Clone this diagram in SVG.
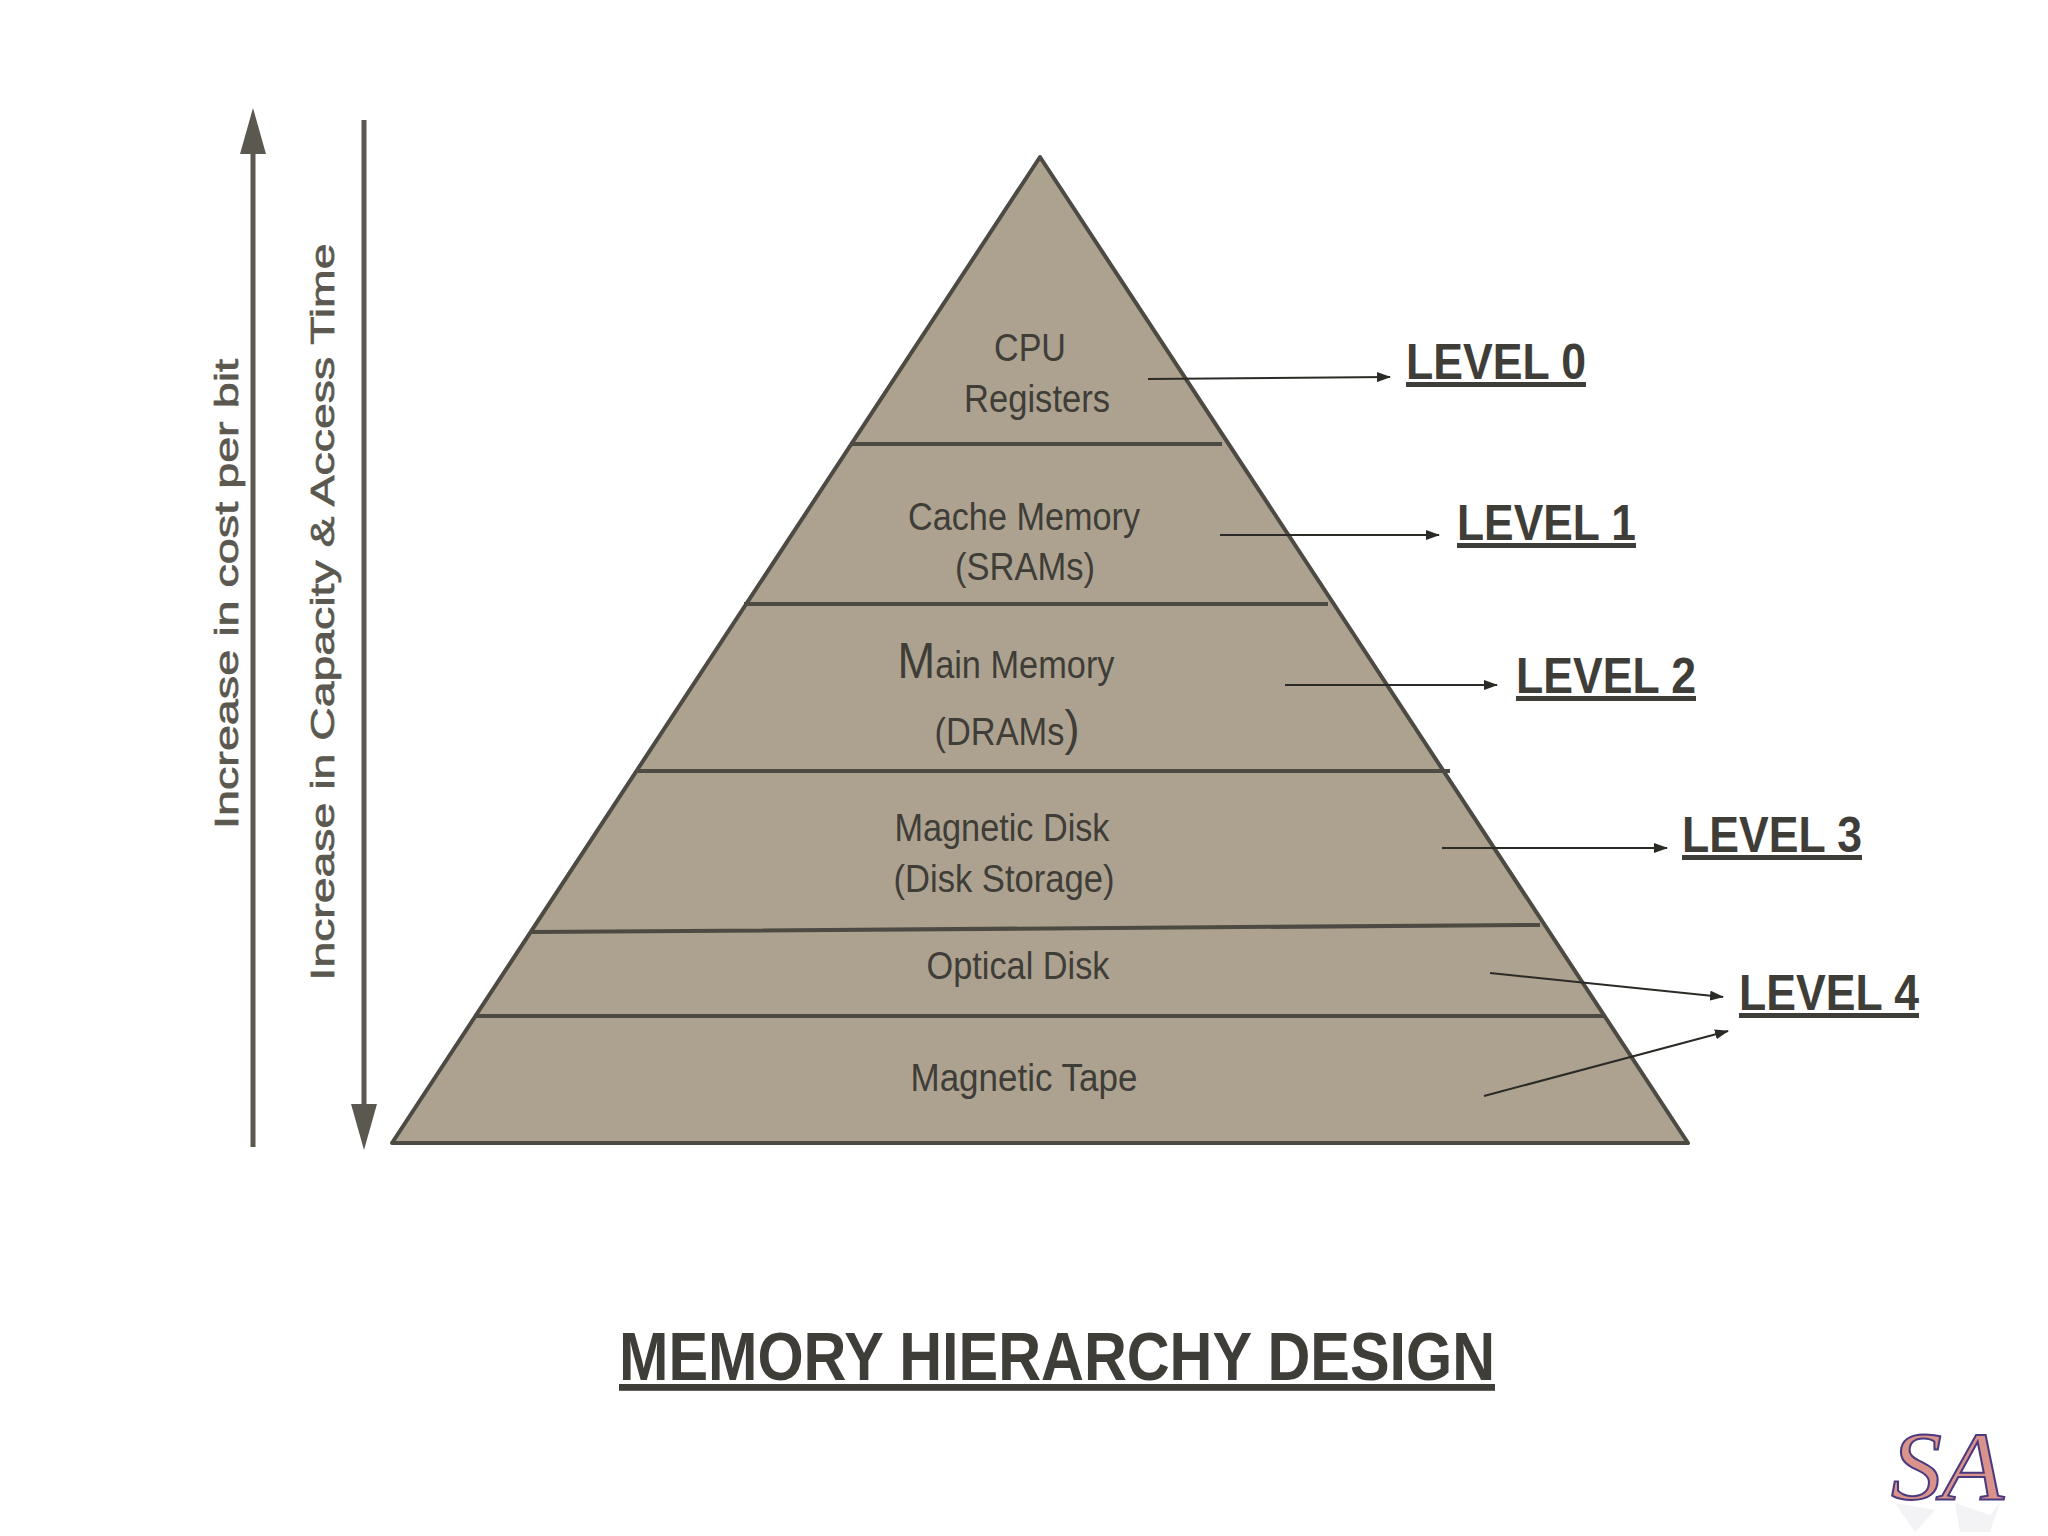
<svg xmlns="http://www.w3.org/2000/svg" width="2048" height="1536" viewBox="0 0 2048 1536">
<defs>
<marker id="s" markerUnits="userSpaceOnUse" markerWidth="14" markerHeight="10" refX="13" refY="5" orient="auto"><path d="M0 0L14 5L0 10z" fill="#2b2a26"/></marker>
</defs>
<style>
.t{font-family:"Liberation Sans",Arial,sans-serif;fill:#3f3d38;font-size:38px;text-anchor:middle}
.l{font-family:"Liberation Sans",Arial,sans-serif;fill:#3f3d38;font-size:50px;font-weight:bold;text-decoration:underline}
.v{font-family:"Liberation Sans",Arial,sans-serif;fill:#5a584f;stroke:#5a584f;stroke-width:.7;font-size:34px;text-anchor:middle}
.d{stroke:#4c4a42;stroke-width:4;fill:none}
.c{stroke:#2b2a26;stroke-width:2;fill:none;marker-end:url(#s)}
.m{font-family:"Liberation Serif",serif;font-size:98px;font-style:italic}
</style>
<rect width="2048" height="1536" fill="#fff"/>
<g id="pyramid">
<path d="M1040 157L1688 1143H392Z" fill="#ada28f" stroke="#4c4a42" stroke-width="4" stroke-linejoin="round"/>
<path class="d" d="M852 444H1222M744 604H1328M638 771H1450M532 932L1540 925M474 1016H1604"/>
</g>
<g id="level0-node"><text class="t" x="1030" y="361" textLength="72" lengthAdjust="spacingAndGlyphs">CPU</text><text class="t" x="1037" y="412" textLength="146" lengthAdjust="spacingAndGlyphs">Registers</text></g>
<g id="level1-node"><text class="t" x="1024" y="530" textLength="232" lengthAdjust="spacingAndGlyphs">Cache Memory</text><text class="t" x="1025" y="580" textLength="140" lengthAdjust="spacingAndGlyphs">(SRAMs)</text></g>
<g id="level2-node"><text class="t" x="1006" y="678" textLength="217" lengthAdjust="spacingAndGlyphs"><tspan font-size="50">M</tspan>ain Memory</text><text class="t" x="1007" y="745" textLength="145" lengthAdjust="spacingAndGlyphs">(DRAMs<tspan font-size="50">)</tspan></text></g>
<g id="level3-node"><text class="t" x="1002" y="841" textLength="215" lengthAdjust="spacingAndGlyphs">Magnetic Disk</text><text class="t" x="1004" y="892" textLength="221" lengthAdjust="spacingAndGlyphs">(Disk Storage)</text></g>
<g id="optical"><text class="t" x="1018" y="979" textLength="183" lengthAdjust="spacingAndGlyphs">Optical Disk</text></g>
<g id="tape"><text class="t" x="1024" y="1091" textLength="227" lengthAdjust="spacingAndGlyphs">Magnetic Tape</text></g>
<g id="connectors">
<path class="c" d="M1148 379L1390 377"/>
<path class="c" d="M1220 535H1439"/>
<path class="c" d="M1285 685H1497"/>
<path class="c" d="M1442 848H1667"/>
<path class="c" d="M1490 973L1723 997"/>
<path class="c" d="M1484 1096L1728 1031"/>
</g>
<g id="axes">
<path d="M253 1147V150" stroke="#5a584f" stroke-width="5"/><path d="M253 108L240 154H266Z" fill="#5a584f"/>
<path d="M364 120V1110" stroke="#5a584f" stroke-width="5"/><path d="M364 1150L351 1104H377Z" fill="#5a584f"/>
<text class="v" transform="translate(238 594) rotate(-90)" textLength="470" lengthAdjust="spacingAndGlyphs">Increase in cost per bit</text>
<text class="v" transform="translate(334 612) rotate(-90)" textLength="737" lengthAdjust="spacingAndGlyphs">Increase in Capacity &amp; Access Time</text>
</g>
<g id="labels">
<text class="l" x="1406" y="379" textLength="180" lengthAdjust="spacingAndGlyphs">LEVEL 0</text>
<text class="l" x="1457" y="540" textLength="179" lengthAdjust="spacingAndGlyphs">LEVEL 1</text>
<text class="l" x="1516" y="693" textLength="180" lengthAdjust="spacingAndGlyphs">LEVEL 2</text>
<text class="l" x="1682" y="852" textLength="180" lengthAdjust="spacingAndGlyphs">LEVEL 3</text>
<text class="l" x="1739" y="1010" textLength="180" lengthAdjust="spacingAndGlyphs">LEVEL 4</text>
</g>
<text id="title" x="1057" y="1380" text-anchor="middle" textLength="876" lengthAdjust="spacingAndGlyphs" style="font-family:'Liberation Sans',Arial,sans-serif;font-size:68px;font-weight:bold;text-decoration:underline" fill="#3f3d38">MEMORY HIERARCHY DESIGN</text>
<g id="mark">
<path d="M1895 1503L1935 1510L1915 1532ZM1955 1503L1990 1515L2000 1503L1990 1532H1960Z" fill="#8a7fa0" opacity=".1"/>
<text class="m" x="1891" y="1499" textLength="113" lengthAdjust="spacingAndGlyphs" fill="#d9938b" stroke="#4b3a80" stroke-width="2">SA</text>
</g>
</svg>
